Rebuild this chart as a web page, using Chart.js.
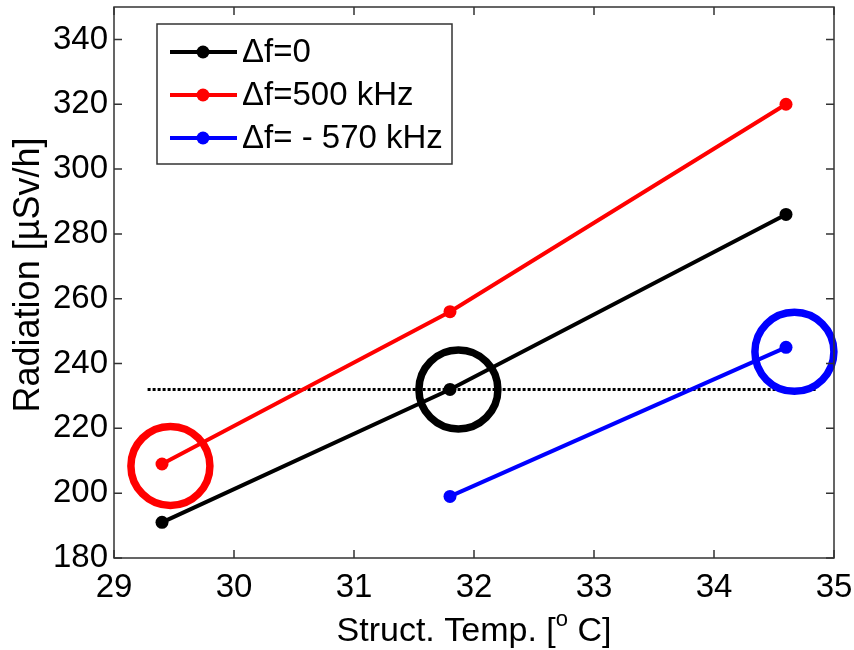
<!DOCTYPE html>
<html lang="en">
<head>
    <meta charset="utf-8">
    <title>Radiation vs structure temperature</title>
    <script src="https://cdn.jsdelivr.net/npm/chart.js"></script>
    <style>
        html, body { margin: 0; padding: 0; background: #fff; }
    </style>
</head>
<body>
<canvas id="myChart" width="854" height="650"></canvas>
<script>
    // measured values
    const seriesLabels = ['\u0394f=0', '\u0394f=500 kHz', '\u0394f= - 570 kHz'];
    const tempZero = [29.4, 31.8, 34.6];
    const radZero = [191, 232, 286];
    const temp500 = [29.4, 31.8, 34.6];
    const rad500 = [209, 256, 320];
    const tempMinus570 = [31.8, 34.6];
    const radMinus570 = [199, 245];
    const refLineTemp = [29.28, 34.85];
    const refLineRad = [232, 232];
    const circleTemp = [29.47, 31.87, 34.67];
    const circleRad = [208.4, 232, 243.6];
    const xTicks = [29, 30, 31, 32, 33, 34, 35];
    const yTicks = [180, 200, 220, 240, 260, 280, 300, 320, 340];

    const colors = ['#000000', '#ff0000', '#0000ff'];
    const circleColors = ['#ff0000', '#000000', '#0000ff'];
    const FONT = '"Liberation Sans", Arial, sans-serif';

    function pts(xs, ys) {
        return xs.map((v, i) => ({x: v, y: ys[i]}));
    }

    const seriesData = [pts(tempZero, radZero), pts(temp500, rad500), pts(tempMinus570, radMinus570)];

    const datasets = seriesData.map((d, i) => ({
        label: seriesLabels[i],
        data: d,
        showLine: true,
        borderColor: colors[i],
        backgroundColor: colors[i],
        borderWidth: 4,
        pointRadius: 6.5,
        pointBorderWidth: 0,
        order: 3
    }));

    datasets.push({
        label: 'ref',
        data: pts(refLineTemp, refLineRad),
        showLine: true,
        borderColor: '#000',
        borderWidth: 3,
        borderDash: [3, 2],
        pointRadius: 0,
        order: 4
    });

    datasets.push({
        label: 'marks',
        data: pts(circleTemp, circleRad),
        showLine: false,
        pointStyle: 'circle',
        pointRadius: 39.5,
        pointBorderWidth: 7.5,
        pointBorderColor: circleColors,
        pointBackgroundColor: 'rgba(0,0,0,0)',
        clip: false,
        order: 1
    });

    const frame = {
        id: 'frame',
        afterDraw(chart) {
            const {ctx, chartArea: a, scales: {x, y}} = chart;
            ctx.save();
            ctx.strokeStyle = '#333';
            ctx.lineWidth = 1.5;
            ctx.strokeRect(a.left, a.top, a.right - a.left, a.bottom - a.top);
            ctx.beginPath();
            x.ticks.forEach(t => {
                const px = x.getPixelForValue(t.value);
                ctx.moveTo(px, a.bottom); ctx.lineTo(px, a.bottom - 8);
                ctx.moveTo(px, a.top); ctx.lineTo(px, a.top + 8);
            });
            y.ticks.forEach(t => {
                const py = y.getPixelForValue(t.value);
                ctx.moveTo(a.left, py); ctx.lineTo(a.left + 8, py);
                ctx.moveTo(a.right, py); ctx.lineTo(a.right - 8, py);
            });
            ctx.stroke();

            // legend
            const lx = a.left + 43, ly = a.top + 17;
            ctx.fillStyle = '#fff';
            ctx.fillRect(lx, ly, 295, 140);
            ctx.strokeStyle = '#333';
            ctx.lineWidth = 1.5;
            ctx.strokeRect(lx, ly, 295, 140);
            ctx.font = '33px ' + FONT;
            ctx.textBaseline = 'middle';
            seriesLabels.forEach((lab, i) => {
                const ry = ly + 28 + i * 43;
                ctx.strokeStyle = colors[i];
                ctx.fillStyle = colors[i];
                ctx.lineWidth = 4;
                ctx.beginPath();
                ctx.moveTo(lx + 13, ry); ctx.lineTo(lx + 80, ry);
                ctx.stroke();
                ctx.beginPath();
                ctx.arc(lx + 46, ry, 6.5, 0, Math.PI * 2);
                ctx.fill();
                ctx.fillStyle = '#000';
                ctx.fillText(lab, lx + 85, ry + 1);
            });

            // axis titles
            ctx.fillStyle = '#000';
            ctx.textBaseline = 'alphabetic';
            ctx.font = '36px ' + FONT;
            ctx.save();
            ctx.translate(39, 275);
            ctx.rotate(-Math.PI / 2);
            ctx.textAlign = 'center';
            ctx.fillText('Radiation [\u00b5Sv/h]', 0, 0);
            ctx.restore();

            const partA = 'Struct. Temp. [', partB = 'o', partC = ' C]';
            const fMain = '34px ' + FONT;
            const fSup = '22px ' + FONT;
            ctx.font = fMain;
            const wA = ctx.measureText(partA).width, wC = ctx.measureText(partC).width;
            ctx.font = fSup;
            const wB = ctx.measureText(partB).width;
            let tx = (a.left + a.right) / 2 - (wA + wB + wC) / 2;
            const ty = 641;
            ctx.textAlign = 'left';
            ctx.font = fMain; ctx.fillText(partA, tx, ty); tx += wA;
            ctx.font = fSup; ctx.fillText(partB, tx, ty - 15); tx += wB;
            ctx.font = fMain; ctx.fillText(partC, tx, ty);
            ctx.restore();
        }
    };

    function noPad(s) {
        s.paddingTop = 0; s.paddingBottom = 0; s.paddingLeft = 0; s.paddingRight = 0;
    }

    new Chart(document.getElementById('myChart'), {
        type: 'scatter',
        data: {datasets: datasets},
        options: {
            responsive: false,
            animation: false,
            layout: {autoPadding: false, padding: {top: 7, right: 20, left: 0, bottom: 0}},
            plugins: {legend: {display: false}, tooltip: {enabled: false}},
            scales: {
                x: {
                    min: 29, max: 35,
                    afterFit: s => { s.height = 92; noPad(s); },
                    afterBuildTicks: s => { s.ticks = xTicks.map(v => ({value: v})); },
                    grid: {display: false, drawTicks: false},
                    border: {display: false},
                    ticks: {color: '#000', padding: 10, font: {family: FONT, size: 33}}
                },
                y: {
                    min: 180, max: 350,
                    afterFit: s => { s.width = 114; noPad(s); },
                    afterBuildTicks: s => { s.ticks = yTicks.map(v => ({value: v})); },
                    grid: {display: false, drawTicks: false},
                    border: {display: false},
                    ticks: {color: '#000', padding: 6, font: {family: FONT, size: 33}}
                }
            }
        },
        plugins: [frame]
    });
</script>
</body>
</html>
